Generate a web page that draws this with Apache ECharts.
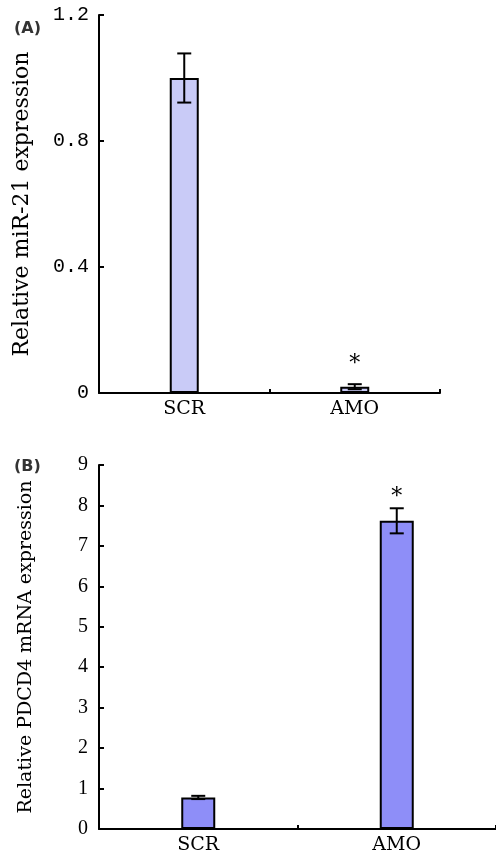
<!DOCTYPE html>
<html>
<head>
<meta charset="utf-8"/>
<script src="https://cdn.jsdelivr.net/npm/echarts@6/dist/echarts.min.js"></script>
<style>html,body{margin:0;padding:0;background:#fff;}</style>
</head>
<body>
<div id="main" style="width:496px;height:858px;"></div>
<script type="text/javascript">
    var categories = ['SCR', 'AMO'];

    // panel A: relative miR-21 expression
    var valuesA = [1.0, 0.02];
    var errorsA = [0.078, 0.008];
    var starsA = [null, 0.09];
    var ticksA = [0, 0.4, 0.8, 1.2];

    // panel B: relative PDCD4 mRNA expression
    var valuesB = [0.78, 7.62];
    var errorsB = [0.04, 0.31];
    var starsB = [null, 8.2];
    var ticksB = [0, 1, 2, 3, 4, 5, 6, 7, 8, 9];

    var chart = echarts.init(document.getElementById('main'));

    function errorSeries(idx, values, errors, stars, capW) {
        return {
            type: 'custom',
            xAxisIndex: idx,
            yAxisIndex: idx,
            z: 5,
            data: values.map(function (v, i) { return [i, v, errors[i], stars[i] == null ? -1 : stars[i]]; }),
            renderItem: function (params, api) {
                var x = api.value(0), y = api.value(1), e = api.value(2), s = api.value(3);
                var top = api.coord([x, y + e]);
                var bot = api.coord([x, y - e]);
                var st = { stroke: '#000', lineWidth: 2 };
                var kids = [
                    { type: 'line', shape: { x1: top[0], y1: top[1], x2: bot[0], y2: bot[1] }, style: st },
                    { type: 'line', shape: { x1: top[0] - capW, y1: top[1], x2: top[0] + capW, y2: top[1] }, style: st },
                    { type: 'line', shape: { x1: bot[0] - capW, y1: bot[1], x2: bot[0] + capW, y2: bot[1] }, style: st }
                ];
                if (s >= 0) {
                    var p = api.coord([x, s]);
                    kids.push({ type: 'text', x: p[0], y: p[1], style: { text: '*', fill: '#000', font: '22px "DejaVu Serif"', align: 'center', verticalAlign: 'middle' } });
                }
                return { type: 'group', children: kids };
            }
        };
    }

    var option = {
        animation: false,
        backgroundColor: '#fff',
        title: [
            { text: '(A)', left: 9, top: 16, textStyle: { fontSize: 16, fontWeight: 'bold', color: '#333', fontFamily: 'DejaVu Sans' } },
            { text: '(B)', left: 9, top: 454, textStyle: { fontSize: 16, fontWeight: 'bold', color: '#333', fontFamily: 'DejaVu Sans' } }
        ],
        grid: [
            { left: 99, top: 15, width: 341, height: 378 },
            { left: 99, top: 465, width: 397, height: 364 }
        ],
        xAxis: [0, 1].map(function (i) {
            return {
                type: 'category',
                gridIndex: i,
                data: categories,
                axisLine: { lineStyle: { color: '#000', width: 2 } },
                axisTick: { show: true, inside: true, length: 4, lineStyle: { color: '#000', width: 2 } },
                axisLabel: { color: '#000', fontSize: 19, fontFamily: 'DejaVu Serif', margin: 7 },
                splitLine: { show: false }
            };
        }),
        yAxis: [
            {
                type: 'value',
                gridIndex: 0,
                min: 0, max: 1.2, interval: 0.4,
                name: 'Relative miR-21 expression',
                nameLocation: 'middle',
                nameGap: 66,
                nameTextStyle: { color: '#000', fontSize: 22, fontFamily: 'DejaVu Serif' },
                axisLine: { show: true, lineStyle: { color: '#000', width: 2 } },
                axisTick: { show: true, inside: true, length: 5, lineStyle: { color: '#000', width: 2 } },
                axisLabel: {
                    color: '#000', fontSize: 20, fontFamily: 'Liberation Mono', margin: 10,
                    formatter: function (v) { return ticksA.indexOf(v) < 0 ? '' : (v === 0 ? '0' : v.toFixed(1)); }
                },
                splitLine: { show: false }
            },
            {
                type: 'value',
                gridIndex: 1,
                min: 0, max: 9, interval: 1,
                name: 'Relative PDCD4 mRNA expression',
                nameLocation: 'middle',
                nameGap: 63,
                nameTextStyle: { color: '#000', fontSize: 19, fontFamily: 'DejaVu Serif' },
                axisLine: { show: true, lineStyle: { color: '#000', width: 2 } },
                axisTick: { show: true, inside: true, length: 5, lineStyle: { color: '#000', width: 2 } },
                axisLabel: {
                    color: '#000', fontSize: 20, fontFamily: 'Liberation Serif', margin: 11,
                    formatter: function (v) { return ticksB.indexOf(v) < 0 ? '' : String(v); }
                },
                splitLine: { show: false }
            }
        ],
        series: [
            {
                type: 'bar',
                xAxisIndex: 0,
                yAxisIndex: 0,
                barWidth: 29,
                data: valuesA,
                itemStyle: { color: '#c9cbf7', borderColor: '#000', borderWidth: 2 }
            },
            errorSeries(0, valuesA, errorsA, starsA, 7),
            {
                type: 'bar',
                xAxisIndex: 1,
                yAxisIndex: 1,
                barWidth: 34,
                data: valuesB,
                itemStyle: { color: '#8e8ef8', borderColor: '#000', borderWidth: 2 }
            },
            errorSeries(1, valuesB, errorsB, starsB, 7)
        ]
    };

    chart.setOption(option);
</script>
</body>
</html>
